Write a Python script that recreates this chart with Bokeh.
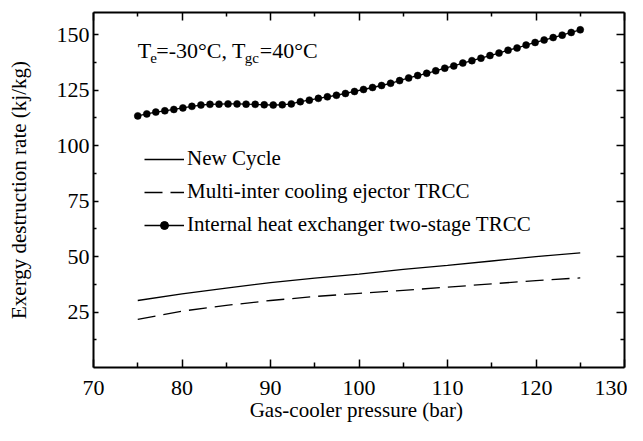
from bokeh.plotting import figure
from bokeh.models import (LinearAxis, FixedTicker, Range1d, Legend, LegendItem,
                          Label, CustomJSTickFormatter)
from bokeh.embed import file_html
from bokeh.resources import INLINE

FONT = "Liberation Serif"

# ---- data ----
pressure = [75, 80, 85, 90, 95, 100, 105, 110, 115, 120, 125]
new_cycle = [30.2, 33.2, 35.8, 38.3, 40.3, 42.1, 44.2, 46.0, 48.0, 50.0, 51.7]
multi_inter = [21.7, 25.4, 28.0, 30.2, 32.0, 33.4, 34.8, 36.2, 37.7, 39.2, 40.4]

ihx_pressure = [75.00, 76.02, 77.04, 78.06, 79.08, 80.10, 81.12, 82.14, 83.16, 84.18,
                85.20, 86.22, 87.24, 88.27, 89.29, 90.31, 91.33, 92.35, 93.37, 94.39,
                95.41, 96.43, 97.45, 98.47, 99.49, 100.51, 101.53, 102.55, 103.57, 104.59,
                105.61, 106.63, 107.65, 108.67, 109.69, 110.71, 111.73, 112.76, 113.78, 114.80,
                115.82, 116.84, 117.86, 118.88, 119.90, 120.92, 121.94, 122.96, 123.98, 125.00]
ihx_values = [113.4, 114.3, 115.1, 115.7, 116.3, 117.0, 117.7, 118.3, 118.6, 118.7,
              118.8, 118.8, 118.7, 118.6, 118.4, 118.3, 118.4, 118.8, 119.8, 120.5,
              121.3, 122.0, 122.7, 123.5, 124.4, 125.3, 126.2, 127.1, 128.1, 129.3,
              130.5, 131.6, 132.6, 133.7, 134.9, 135.9, 137.2, 138.3, 139.4, 140.6,
              141.7, 143.0, 144.0, 145.3, 146.5, 147.6, 148.7, 149.8, 151.0, 152.2]

x_ticks = [70, 80, 90, 100, 110, 120, 130]
x_minor = [75, 85, 95, 105, 115, 125]
y_ticks = [25, 50, 75, 100, 125, 150]
y_minor = [12.5, 37.5, 62.5, 87.5, 112.5, 137.5]

series_names = ["New Cycle", "Multi-inter cooling ejector TRCC",
                "Internal heat exchanger two-stage TRCC"]

p = figure(width=627, height=425, output_backend="svg", toolbar_location=None,
           x_range=Range1d(70, 130), y_range=Range1d(0, 160),
           min_border_left=93, min_border_right=3, min_border_top=12, min_border_bottom=58)
p.xgrid.visible = False
p.ygrid.visible = False
p.outline_line_color = None
p.background_fill_color = "white"

xt = FixedTicker(ticks=x_ticks, minor_ticks=x_minor)
yt = FixedTicker(ticks=y_ticks, minor_ticks=y_minor)

def style(ax, tin, tmin, labels=True):
    ax.axis_line_width = 2
    ax.axis_line_color = "black"
    ax.major_tick_in = tin
    ax.major_tick_out = 0
    ax.minor_tick_in = tmin
    ax.minor_tick_out = 0
    ax.major_tick_line_width = 1.5
    ax.minor_tick_line_width = 1.5
    ax.major_tick_line_color = "black"
    ax.minor_tick_line_color = "black"
    if labels:
        ax.major_label_text_font = FONT
        ax.major_label_text_font_size = "22px"
        ax.major_label_text_color = "black"
        ax.major_label_text_line_height = 1.0
    else:
        ax.formatter = CustomJSTickFormatter(code="return ''")
        ax.major_label_text_font_size = "1px"
        ax.major_label_text_color = None
        ax.major_label_standoff = 0

bx = p.xaxis[0]
bx.ticker = xt
style(bx, 8, 5)
bx.major_label_standoff = 13
bx.axis_label = "Gas-cooler  pressure (bar)"
bx.axis_label_text_font = FONT
bx.axis_label_text_font_size = "21px"
bx.axis_label_text_font_style = "normal"
bx.axis_label_text_color = "black"
bx.axis_label_text_line_height = 1.0
bx.axis_label_standoff = 0

ly = p.yaxis[0]
ly.ticker = yt
style(ly, 5, 3)
ly.major_label_standoff = 4
ly.axis_label = "Exergy destruction rate (kj/kg)"
ly.axis_label_text_font = FONT
ly.axis_label_text_font_size = "21px"
ly.axis_label_text_font_style = "normal"
ly.axis_label_text_color = "black"
ly.axis_label_standoff = 23

tx = LinearAxis(ticker=xt)
style(tx, 8, 4, labels=False)
p.add_layout(tx, "above")
ry = LinearAxis(ticker=yt)
style(ry, 8, 4, labels=False)
p.add_layout(ry, "right")

r1 = p.line(pressure, new_cycle, line_color="black", line_width=1.3)
r2 = p.line(pressure, multi_inter, line_color="black", line_width=1.3, line_dash="18 8")
r3l = p.line(ihx_pressure, ihx_values, line_color="black", line_width=1.3)
legend_dot = p.scatter(ihx_pressure, ihx_values, size=5, fill_color="black", line_color="black")
p.scatter(ihx_pressure, ihx_values, size=7, fill_color="black", line_color="black", line_width=0.5)

legend = Legend(items=[
    LegendItem(label=series_names[0], renderers=[r1]),
    LegendItem(label=series_names[1], renderers=[r2]),
    LegendItem(label=series_names[2], renderers=[r3l, legend_dot]),
], location=(51, 130))
legend.border_line_color = None
legend.background_fill_alpha = 0
legend.padding = 0
legend.margin = 0
legend.spacing = 8
legend.glyph_width = 40
legend.glyph_height = 20
legend.label_standoff = 3
legend.label_text_font = FONT
legend.label_text_font_size = "21px"
legend.label_text_color = "black"
legend.label_text_baseline = "middle"
p.add_layout(legend, "center")

# annotation  T_e=-30°C, T_gc=40°C
ann_x, ann_y = 75, 142.8
pieces = [("T", 0, 0, "22px"), ("e", 12.5, -7, "15px"), ("=-30°C, T", 18.5, 0, "22px"),
          ("gc", 107, -7, "15px"), ("=40°C", 122, 0, "22px")]
for txt, dx, dy, fs in pieces:
    p.add_layout(Label(x=ann_x, y=ann_y, x_offset=dx, y_offset=dy, text=txt,
                       text_font=FONT, text_font_size=fs, text_baseline="alphabetic",
                       text_color="black"))

open("out.html", "w").write(file_html(p, INLINE))
